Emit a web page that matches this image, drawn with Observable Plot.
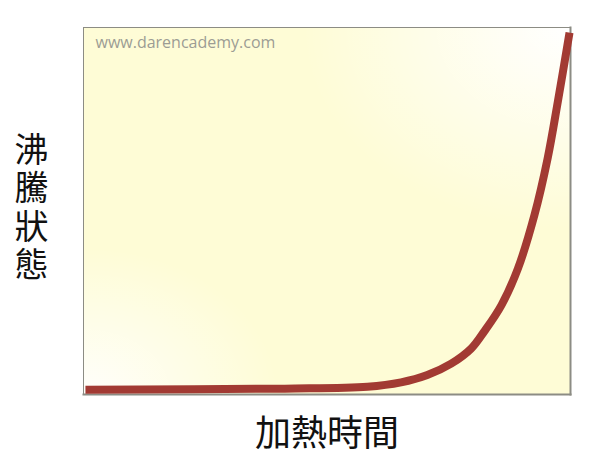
<!DOCTYPE html>
<html>
<head>
<meta charset="utf-8">
<script src="https://cdn.jsdelivr.net/npm/d3@7"></script>
<script src="https://cdn.jsdelivr.net/npm/@observablehq/plot@0.6"></script>
<style>
  html, body { margin: 0; padding: 0; background: #fff; }
</style>
</head>
<body>
<div id="chart"></div>
<script>
// heating time (relative, 0–100) and boiling state (relative, 0–100)
const heatTime = [0.4, 41.3, 58.3, 65.2, 70.6, 75.5, 79.6, 82.3, 85.8, 89.2, 92.6, 95.3, 97.4, 99.8];
const boilState = [1.3, 1.6, 2.1, 3.3, 5.3, 8.4, 12.5, 17.2, 24.3, 34.3, 48.9, 64.3, 79.8, 98.6];
const xLabel = "加熱時間";
const yLabel = "沸騰狀態";
const watermark = "www.darencademy.com";

const data = heatTime.map((x, i) => ({x, y: boilState[i]}));

const defs = () => {
  const d = d3.create("svg:defs");
  const g1 = d.append("radialGradient").attr("id", "glowTR")
    .attr("cx", "1").attr("cy", "0").attr("r", "0.55");
  g1.append("stop").attr("offset", "0").attr("stop-color", "#ffffff").attr("stop-opacity", 1);
  g1.append("stop").attr("offset", "1").attr("stop-color", "#ffffff").attr("stop-opacity", 0);
  const g2 = d.append("radialGradient").attr("id", "glowBL")
    .attr("cx", "0").attr("cy", "1").attr("r", "0.4");
  g2.append("stop").attr("offset", "0").attr("stop-color", "#ffffff").attr("stop-opacity", 0.9);
  g2.append("stop").attr("offset", "1").attr("stop-color", "#ffffff").attr("stop-opacity", 0);
  return d.node();
};

const chart = Plot.plot({
  width: 600,
  height: 465,
  marginLeft: 83,
  marginRight: 30,
  marginTop: 27,
  marginBottom: 71,
  x: {domain: [0, 100], axis: null},
  y: {domain: [0, 100], axis: null},
  style: {background: "#fff", fontFamily: "'Noto Sans CJK TC', sans-serif"},
  marks: [
    defs,
    Plot.frame({fill: "#fefcd6", stroke: "none"}),
    Plot.frame({fill: "url(#glowTR)", stroke: "none"}),
    Plot.frame({fill: "url(#glowBL)", stroke: "none"}),
    Plot.frame({anchor: "right", stroke: "#8c8c84", strokeWidth: 2}),
    Plot.frame({anchor: "bottom", stroke: "#8c8c84", strokeWidth: 2}),
    Plot.frame({anchor: "left", stroke: "#8c8c84", strokeWidth: 1}),
    Plot.frame({anchor: "top", stroke: "#8c8c84", strokeWidth: 1}),
    Plot.text([watermark], {
      frameAnchor: "top-left", dx: 12, dy: 9, textAnchor: "start",
      fontSize: 16, fill: "#9c9c94", fontFamily: "'Open Sans', sans-serif"
    }),
    Plot.line(data, {
      x: "x", y: "y", stroke: "#a23a33", strokeWidth: 8,
      curve: "catmull-rom", strokeLinecap: "butt", strokeLinejoin: "round"
    }),
    Plot.text([xLabel], {
      frameAnchor: "bottom", dy: 51, fontSize: 36, fill: "#111",
      fontFamily: "'Noto Sans CJK TC', sans-serif", letterSpacing: "2px"
    }),
    Plot.text([yLabel.split("").join("\n")], {
      frameAnchor: "left", textAnchor: "middle", dx: -52, dy: -4,
      fontSize: 34, lineHeight: 1.13,
      fill: "#111", fontFamily: "'Noto Sans CJK TC', sans-serif"
    })
  ]
});
document.getElementById("chart").appendChild(chart);
</script>
</body>
</html>
